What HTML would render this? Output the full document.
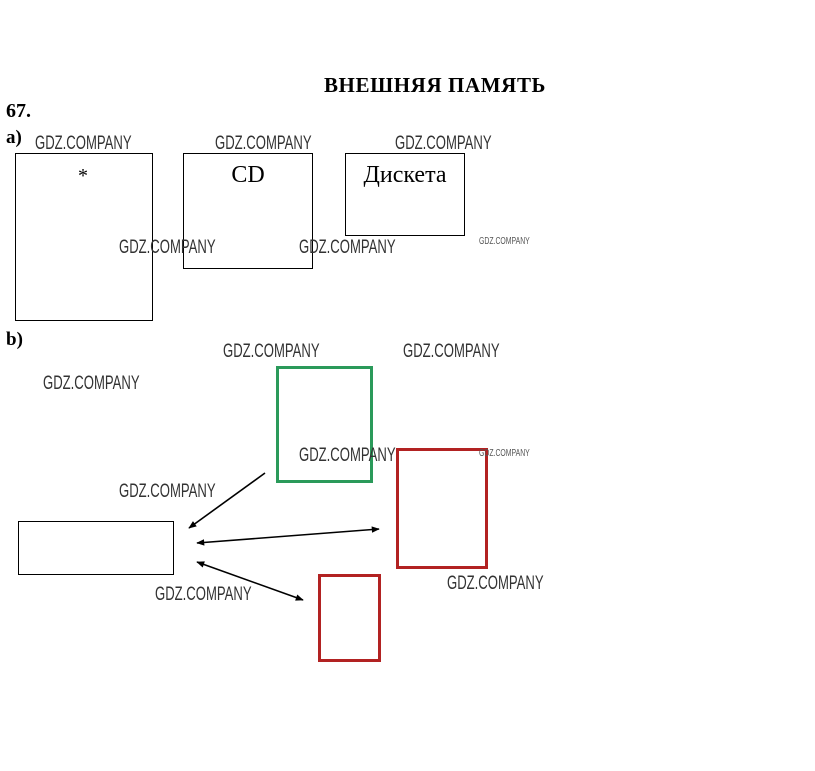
<!DOCTYPE html>
<html><head><meta charset="utf-8"><style>
html,body{margin:0;padding:0;background:#fff;}
svg{display:block;}
.wm{font-family:"Liberation Sans",sans-serif;font-size:19px;fill:#333;}
.wms{font-family:"Liberation Sans",sans-serif;font-size:10px;fill:#555;}
.ser{font-family:"Liberation Serif","Noto Serif CJK SC",serif;}
</style></head><body>
<svg width="815" height="771" viewBox="0 0 815 771" xmlns="http://www.w3.org/2000/svg">
<defs>
<marker id="ah" viewBox="0 0 10 10" refX="9" refY="5" markerWidth="9" markerHeight="8" orient="auto-start-reverse" markerUnits="userSpaceOnUse"><path d="M0,1 L10,5 L0,9 z" fill="#000"/></marker>
</defs>
<text x="435" y="92" text-anchor="middle" class="ser" font-weight="bold" font-size="21" letter-spacing="0.6">ВНЕШНЯЯ ПАМЯТЬ</text>
<text x="6" y="117" class="ser" font-weight="bold" font-size="20">67.</text>
<text x="6" y="143" class="ser" font-weight="bold" font-size="19">а)</text>
<text x="6" y="345" class="ser" font-weight="bold" font-size="19">b)</text>

<rect x="15.5" y="153.5" width="137" height="167" fill="none" stroke="#000" stroke-width="1"/>
<rect x="183.5" y="153.5" width="129" height="115" fill="none" stroke="#000" stroke-width="1"/>
<rect x="345.5" y="153.5" width="119" height="82" fill="none" stroke="#000" stroke-width="1"/>
<text x="83" y="182" text-anchor="middle" class="ser" font-size="20">*</text>
<text x="248" y="182" text-anchor="middle" class="ser" font-size="24">CD</text>
<text x="405" y="182" text-anchor="middle" class="ser" font-size="24">Дискета</text>

<rect x="277.5" y="367.5" width="94" height="114" fill="none" stroke="#2a9a5a" stroke-width="3"/>
<rect x="397.5" y="449.5" width="89" height="118" fill="none" stroke="#b22222" stroke-width="3"/>
<rect x="319.5" y="575.5" width="60" height="85" fill="none" stroke="#b22222" stroke-width="3"/>
<rect x="18.5" y="521.5" width="155" height="53" fill="none" stroke="#000" stroke-width="1"/>

<line x1="265" y1="473" x2="189" y2="528" stroke="#000" stroke-width="1.6" marker-end="url(#ah)"/>
<line x1="197" y1="543" x2="379" y2="529" stroke="#000" stroke-width="1.6" marker-start="url(#ah)" marker-end="url(#ah)"/>
<line x1="197" y1="562" x2="303" y2="600" stroke="#000" stroke-width="1.6" marker-start="url(#ah)" marker-end="url(#ah)"/>

<g class="wm">
<text transform="translate(35,149) scale(0.69,1)">GDZ.COMPANY</text>
<text transform="translate(215,149) scale(0.69,1)">GDZ.COMPANY</text>
<text transform="translate(395,149) scale(0.69,1)">GDZ.COMPANY</text>
<text transform="translate(119,253) scale(0.69,1)">GDZ.COMPANY</text>
<text transform="translate(299,253) scale(0.69,1)">GDZ.COMPANY</text>
<text transform="translate(223,357) scale(0.69,1)">GDZ.COMPANY</text>
<text transform="translate(403,357) scale(0.69,1)">GDZ.COMPANY</text>
<text transform="translate(43,389) scale(0.69,1)">GDZ.COMPANY</text>
<text transform="translate(299,461) scale(0.69,1)">GDZ.COMPANY</text>
<text transform="translate(119,497) scale(0.69,1)">GDZ.COMPANY</text>
<text transform="translate(155,600) scale(0.69,1)">GDZ.COMPANY</text>
<text transform="translate(447,589) scale(0.69,1)">GDZ.COMPANY</text>
</g>
<g class="wms">
<text transform="translate(479,244) scale(0.69,1)">GDZ.COMPANY</text>
<text transform="translate(479,456) scale(0.69,1)">GDZ.COMPANY</text>
</g>
</svg>
</body></html>
